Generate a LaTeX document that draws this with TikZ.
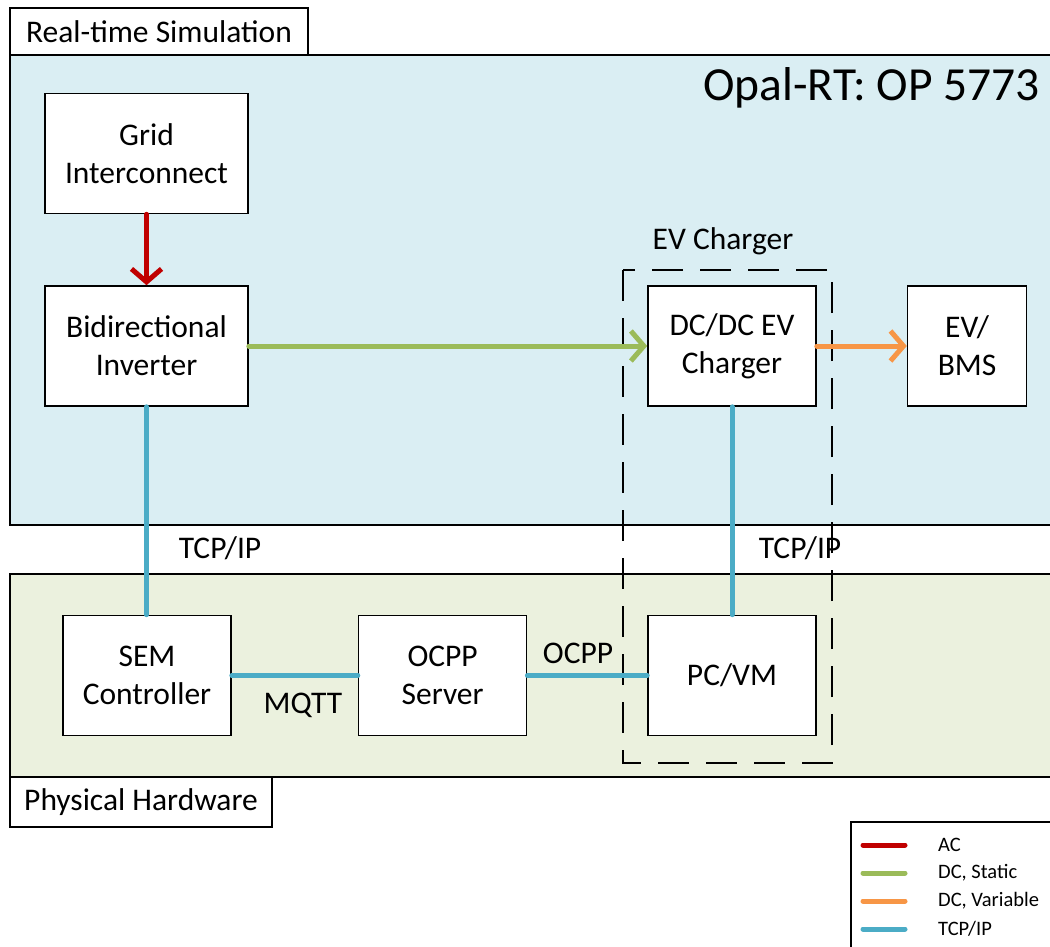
\documentclass[tikz,border=0pt]{standalone}
\usepackage{fontspec}
\setmainfont{Carlito}
\usetikzlibrary{arrows.meta,positioning}
\definecolor{simfill}{HTML}{DAEEF3}
\definecolor{hwfill}{HTML}{EBF1DE}
\definecolor{acred}{HTML}{C00000}
\definecolor{dcgreen}{HTML}{9BBB59}
\definecolor{dcorange}{HTML}{F79646}
\definecolor{tcpblue}{HTML}{4BACC6}
\newcommand{\boxfont}{\fontsize{31.5}{38}\selectfont}
\begin{document}
\begin{tikzpicture}[x=1pt,y=-1pt]
\tikzstyle{block}=[draw,fill=white,line width=1.6pt,align=center,font=\boxfont,inner sep=0pt,minimum height=120pt]
\tikzstyle{tab}=[draw,fill=white,line width=1.5pt,font=\boxfont,inner sep=0pt]
\tikzstyle{lbl}=[font=\boxfont,inner sep=0pt]
\tikzstyle{link}=[line width=5pt,line cap=round]
\tikzstyle{tip}=[-{Straight Barb[length=13pt,width=30pt]}]
\useasboundingbox (0,0) rectangle (1050,947);

% regions
\draw[fill=simfill,line width=1.5pt] (10,55) rectangle (1062,525);
\draw[fill=hwfill,line width=1.5pt] (10,574) rectangle (1062,777);
\node[tab,minimum width=298pt,minimum height=47pt] (simtab) at (159,31.5) {Real-time Simulation};
\node[tab,minimum width=262pt,minimum height=50pt] (hwtab) at (141,802) {Physical Hardware};
\node[font=\fontsize{47.5}{54}\selectfont,inner sep=0pt,anchor=base east] (opal) at (1040,101) {Opal-RT: OP 5773};

% blocks
\node[block,minimum width=203pt] (grid) at (146.5,153.5) {Grid\\Interconnect};
\node[block,minimum width=203pt] (inv) at (146.5,346) {Bidirectional\\Inverter};
\node[block,minimum width=168pt] (dcdc) at (732,346) {DC/DC EV\\Charger};
\node[block,minimum width=119pt,right=90pt of dcdc] (ev) {EV/\\BMS};
\node[block,minimum width=168pt] (sem) at (147,675.5) {SEM\\Controller};
\node[block,minimum width=168pt,right=126pt of sem] (ocpp) {OCPP\\Server};
\node[block,minimum width=168pt] (pcvm) at (732,675.5) {PC/VM};

% charger group
\draw[line width=1.6pt,dash pattern=on 31pt off 17pt] (623,270) rectangle (832,763);
\node[lbl] (evc) at (723,241) {EV Charger};

% links
\draw[link,tip,acred] (grid) -- (inv);
\draw[link,tip,dcgreen] (inv) -- (dcdc);
\draw[link,tip,dcorange] (dcdc) -- (ev);
\draw[link,tcpblue] (inv.south) -- (inv.south |- sem.north);
\draw[link,tcpblue] (dcdc) -- (pcvm);
\draw[link,tcpblue] (sem) -- (ocpp);
\draw[link,tcpblue] (ocpp) -- (pcvm);

\node[lbl] (tcpa) at (220,548) {TCP/IP};
\node[lbl] (tcpb) at (800,548) {TCP/IP};
\node[lbl] (mqtt) at (303,705) {MQTT};
\node[lbl] (ocpptxt) at (578,653) {OCPP};

% legend
\draw[line width=1.5pt,fill=white] (851,822) rectangle (1062,960);
\foreach \col/\txt [count=\i] in {acred/AC,dcgreen/{DC, Static},dcorange/{DC, Variable},tcpblue/{TCP{/}IP}}
{
  \draw[link,\col] (863,817+28*\i) -- (905,817+28*\i);
  \node[font=\fontsize{20.5}{24}\selectfont,inner sep=0pt,anchor=west] at (938,817+28*\i) {\txt};
}
\end{tikzpicture}
\end{document}
